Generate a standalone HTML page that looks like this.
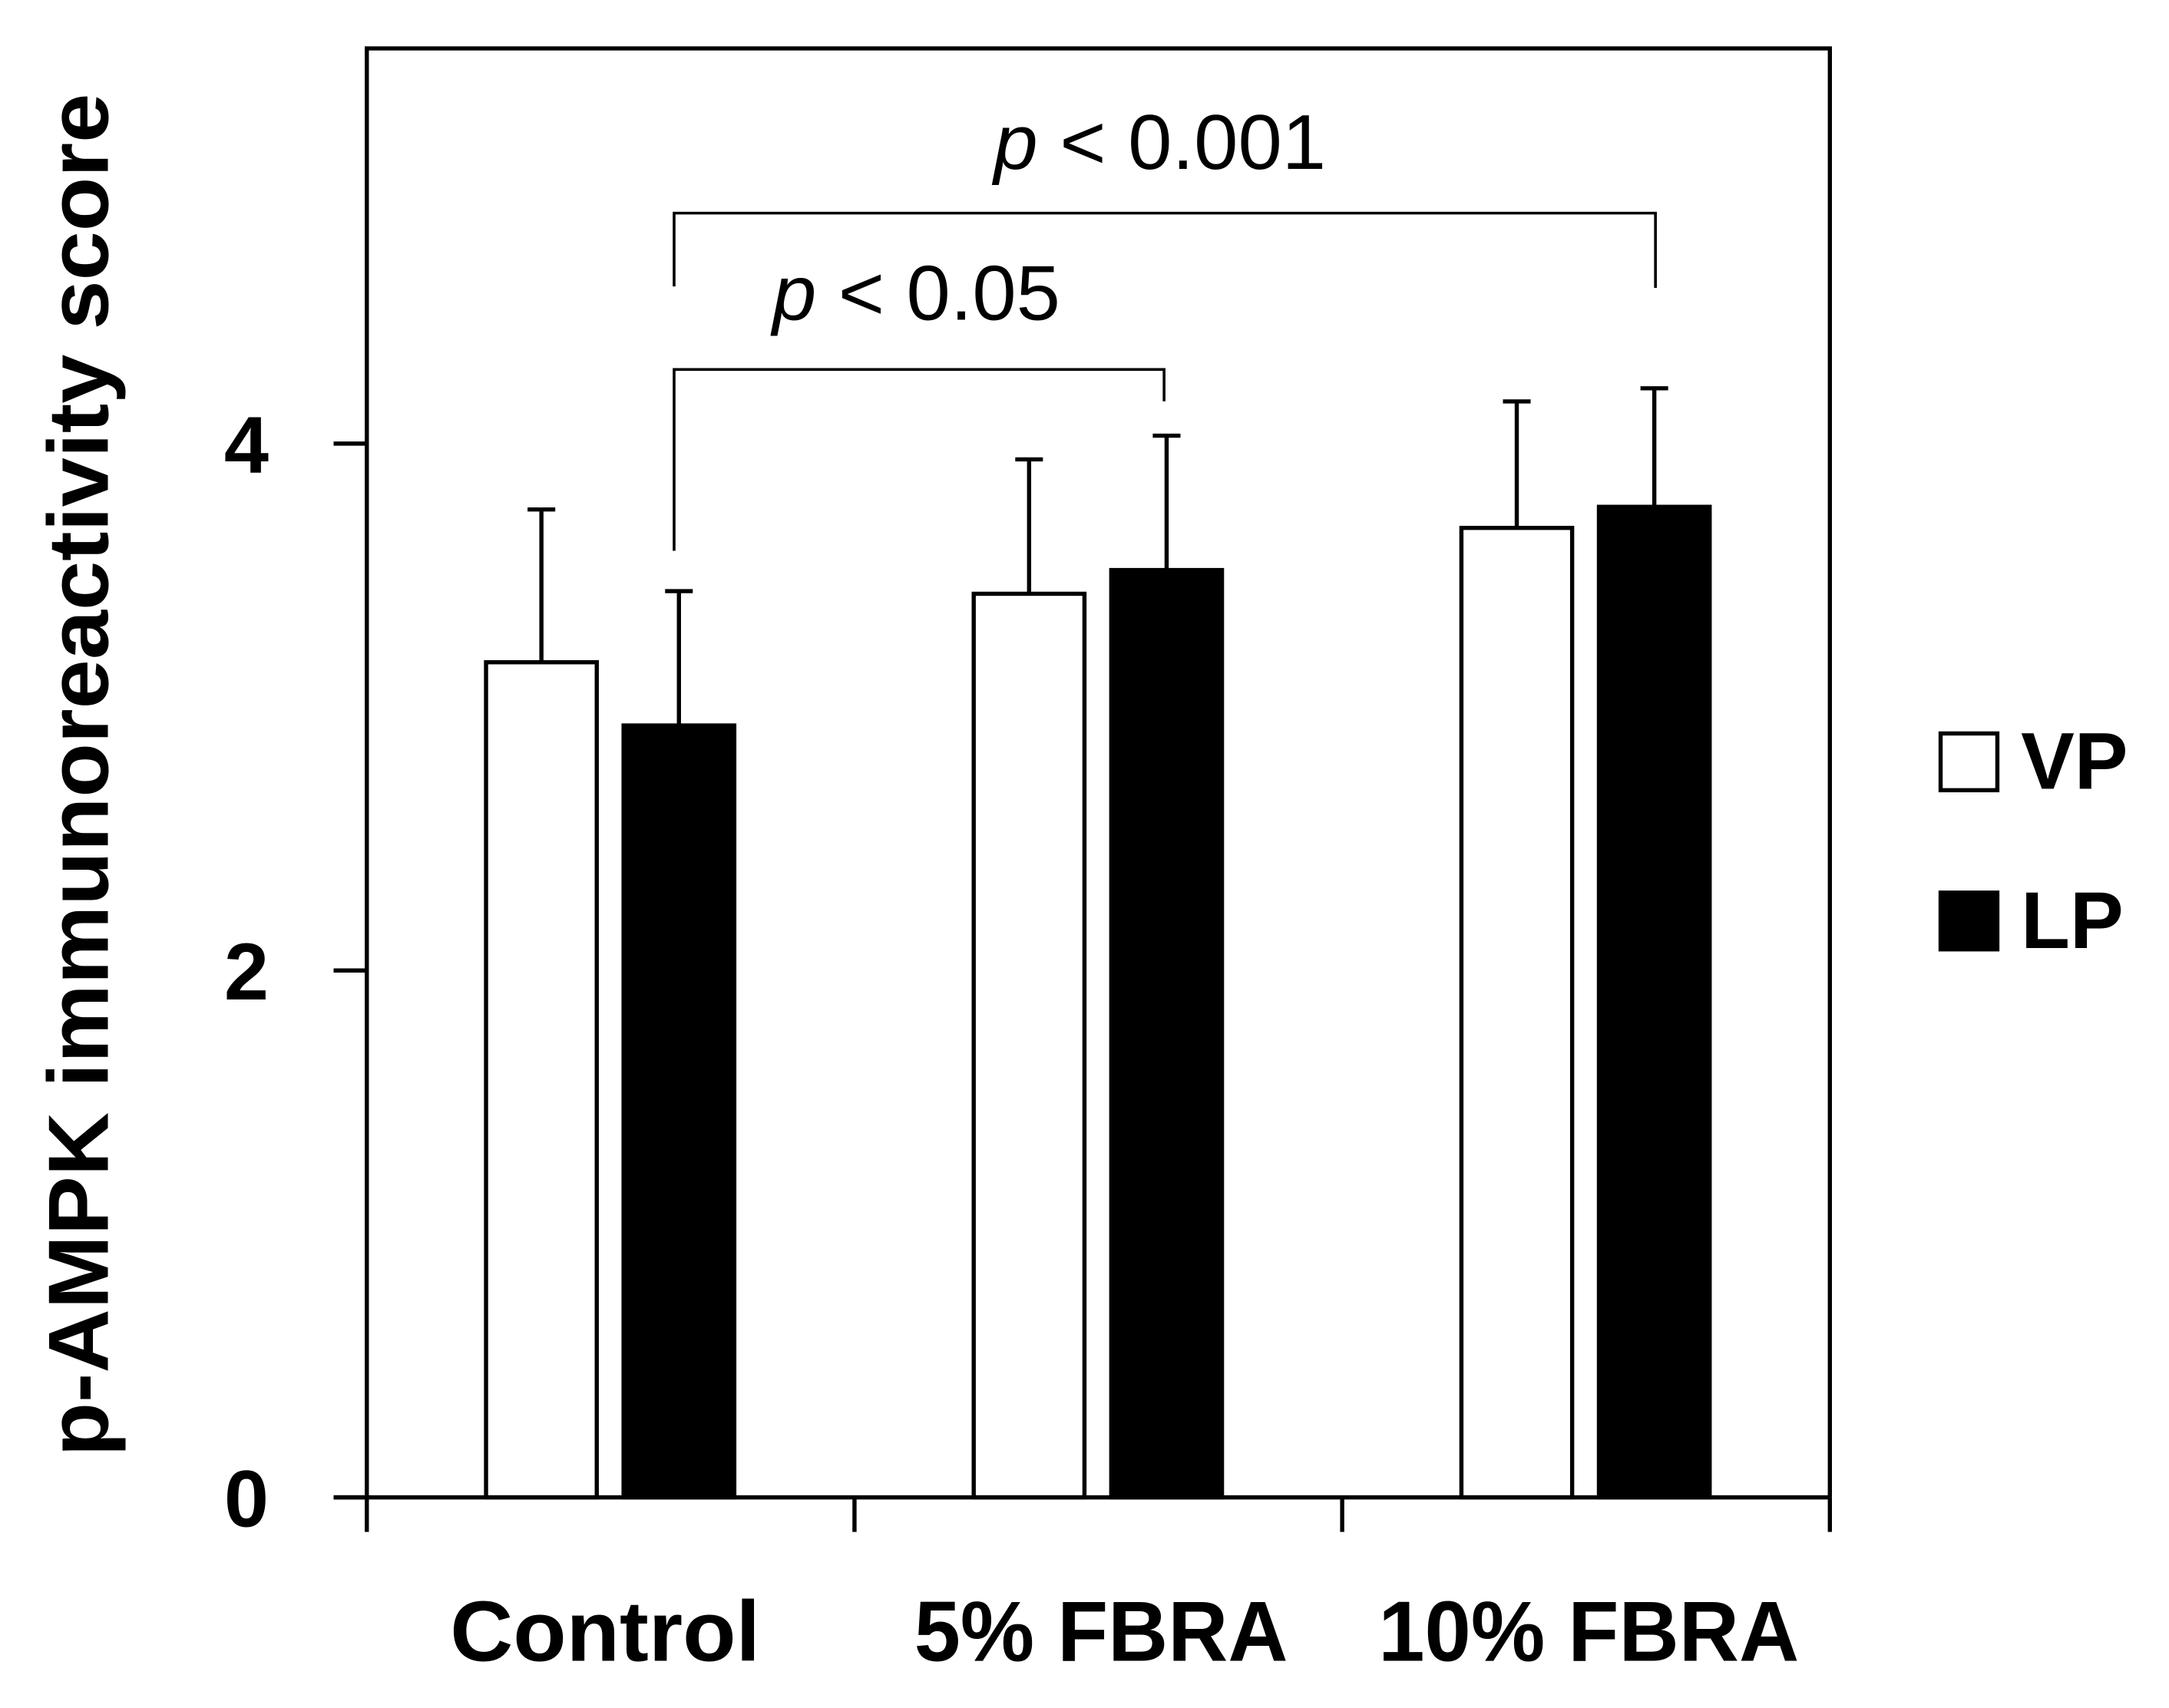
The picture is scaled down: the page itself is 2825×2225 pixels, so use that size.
<!DOCTYPE html>
<html><head><meta charset="utf-8"><style>
html,body{margin:0;padding:0;background:#fff}
svg{display:block}
text{font-family:"Liberation Sans",sans-serif}
</style></head><body>
<svg id="chart" width="2825" height="2225" viewBox="0 0 1567 1234.2" xmlns="http://www.w3.org/2000/svg"></svg>
<script>
const categories = ["Control", "5% FBRA", "10% FBRA"];
const seriesNames = ["VP", "LP"];
const vpValues = [3.17, 3.43, 3.68];
const lpValues = [2.93, 3.52, 3.76];
const vpErrors = [0.58, 0.51, 0.48];
const lpErrors = [0.51, 0.51, 0.45];
const yTicks = [0, 2, 4];

const NS = "http://www.w3.org/2000/svg";
const svg = document.getElementById("chart");
const L = 265, R = 1322, T = 35, B = 1082, yMax = 5.5;
const y = v => B - (B - T) * v / yMax;
const gw = (R - L) / categories.length;
const xc = (i, s) => L + gw * i + gw * (s === 0 ? 0.358 : 0.64);
function el(tag, attrs, parent) {
  const e = document.createElementNS(NS, tag);
  for (const k in attrs) e.setAttribute(k, attrs[k]);
  (parent || svg).appendChild(e);
  return e;
}
const bw = 80;
[vpValues, lpValues].forEach((vals, s) => {
  const errs = s === 0 ? vpErrors : lpErrors;
  vals.forEach((v, i) => {
    const cx = xc(i, s);
    const eb = el("line", {x1: cx, x2: cx, y1: y(v), y2: y(v + errs[i]), stroke: "#000", "stroke-width": 3});
    
    
    const cap = el("line", {x1: cx - 10, x2: cx + 10, y1: y(v + errs[i]), y2: y(v + errs[i]), stroke: "#000", "stroke-width": 3});
    
    
    const r = el("rect", {x: cx - bw / 2, y: y(v), width: bw, height: B - y(v), fill: s === 0 ? "#fff" : "#000", stroke: "#000", "stroke-width": 3});
    
    
  });
});
const fr = el("path", {d: `M${L},${B} L${L},${T} L${R},${T} L${R},${B}`, fill: "none", stroke: "#000", "stroke-width": 3});


const xa = el("line", {x1: 241, x2: R, y1: B, y2: B, stroke: "#000", "stroke-width": 3});


yTicks.forEach(t => {
  const tk = el("line", {x1: 241, x2: L, y1: y(t), y2: y(t), stroke: "#000", "stroke-width": 3});
  
  
  const tl = el("text", {x: 178, y: y(t) + 21, "text-anchor": "middle", "font-size": 58, "font-weight": "bold"});
  tl.textContent = t;
  
  
});
for (let i = 0; i <= categories.length; i++) {
  const tk = el("line", {x1: L + gw * i, x2: L + gw * i, y1: B, y2: 1107, stroke: "#000", "stroke-width": 3});
  
  
}
categories.forEach((c, i) => {
  const t = el("text", {x: L + gw * (i + 0.5) + (i === 0 ? -4 : 2), y: 1200, "text-anchor": "middle", "font-size": 62, "font-weight": "bold", textLength: [224, 270, 304][i], lengthAdjust: "spacingAndGlyphs"});
  t.textContent = c;
  
  
});
const yt = el("text", {x: 0, y: 0, transform: "translate(78,560) rotate(-90)", "text-anchor": "middle", "font-size": 62, "font-weight": "bold", textLength: 985, lengthAdjust: "spacingAndGlyphs"});
yt.textContent = "p-AMPK immunoreactivity score";


function bracket(x1, x2, yb, l1, l2, label, tx, ty, tw, name) {
  const p = el("path", {d: `M${x1},${l1} L${x1},${yb} L${x2},${yb} L${x2},${l2}`, fill: "none", stroke: "#000", "stroke-width": 2});
  
  
  const t = el("text", {x: tx, y: ty, "text-anchor": "middle", "font-size": 56, textLength: tw, lengthAdjust: "spacingAndGlyphs"});
  
  
  const it = el("tspan", {"font-style": "italic"}, t); it.textContent = "p";
  const rest = el("tspan", {}, t); rest.textContent = " < " + label;
}
bracket(487, 1196, 154, 207, 208, "0.001", 838, 122, 240, "significance-001");
bracket(487, 841, 267, 398, 290, "0.05", 662, 231, 208, "significance-05");
[["VP", "#fff", 530], ["LP", "#000", 645]].forEach(([n, f, ty]) => {
  const r = el("rect", {x: 1402, y: ty, width: 41, height: 41, fill: f, stroke: "#000", "stroke-width": 3});
  
  
  const t = el("text", {x: 1460, y: ty + 40, "font-size": 58, "font-weight": "bold"});
  t.textContent = n;
  
  
});
</script>
</body></html>
